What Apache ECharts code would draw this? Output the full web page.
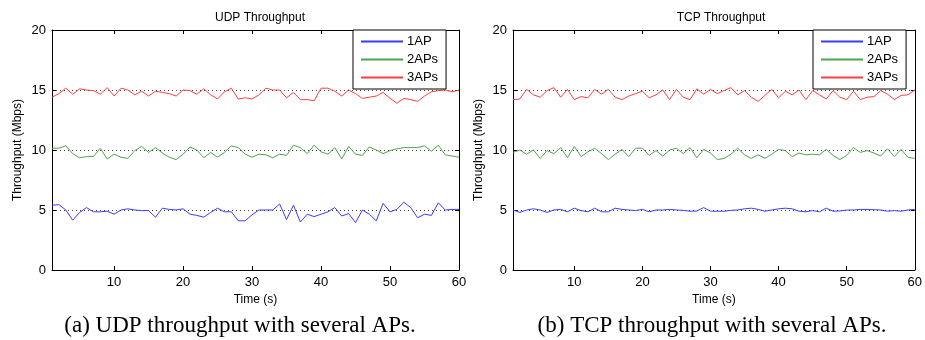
<!DOCTYPE html>
<html>
<head>
<meta charset="utf-8">
<script src="https://cdn.jsdelivr.net/npm/echarts@6/dist/echarts.min.js"></script>
<style>
html,body{margin:0;padding:0;background:#fff;}
#c{width:925px;height:340px;}
</style>
</head>
<body>
<div id="c"></div>
<script>
// ---- data ----
var time = [1,2,3,4,5,6,7,8,9,10,11,12,13,14,15,16,17,18,19,20,21,22,23,24,25,26,27,28,29,30,
            31,32,33,34,35,36,37,38,39,40,41,42,43,44,45,46,47,48,49,50,51,52,53,54,55,56,57,58,59,60];
var seriesNames = ['1AP', '2APs', '3APs'];
var xTicks = [10, 20, 30, 40, 50, 60];
var yTicks = [0, 5, 10, 15, 20];
var chartTitles = ['UDP Throughput', 'TCP Throughput'];
var captions = ['(a) UDP throughput with several APs.', '(b) TCP throughput with several APs.'];

var udp1 = [5.4,5.45,5.0,4.15,4.8,5.2,4.85,4.85,4.9,4.65,5.0,5.1,5.0,4.95,4.95,4.4,5.15,5.05,5.0,5.1,
            4.65,4.55,4.4,4.8,5.15,4.85,4.85,4.1,4.1,4.6,5.0,5.0,5.0,5.5,4.2,5.4,4.0,4.65,4.45,4.65,
            4.85,5.2,4.5,4.7,3.95,5.0,4.65,4.1,5.55,4.85,5.05,5.65,5.2,4.35,4.65,4.55,5.6,5.0,5.05,5.05];
var udp2 = [10.15,10.15,10.35,9.7,9.35,9.45,9.45,10.15,9.25,9.65,9.4,9.3,9.95,10.3,9.8,10.2,9.75,9.4,9.2,9.65,
            10.25,10.0,9.35,9.8,9.4,9.8,10.35,10.2,9.65,9.4,9.65,9.6,9.35,9.65,9.55,10.4,10.2,9.7,10.4,9.85,
            9.65,10.2,9.25,10.3,9.65,9.55,10.25,10.0,9.7,9.95,10.1,10.2,10.2,10.2,10.35,9.9,10.4,9.6,9.5,9.4];
var udp3 = [14.4,14.7,15.15,14.65,15.1,15.0,14.95,14.65,15.2,14.5,15.15,15.0,14.6,14.9,14.5,14.9,14.8,14.7,14.5,15.0,
            14.95,14.65,15.1,14.6,14.25,14.85,15.15,14.25,14.35,14.25,14.6,15.15,15.0,15.0,14.35,14.8,14.2,14.2,14.1,15.15,
            15.15,14.9,14.5,15.0,14.7,14.3,14.4,14.5,14.8,14.3,13.9,14.3,14.2,14.05,14.5,14.85,14.95,15.0,14.85,15.0];
var tcp1 = [5.0,4.8,5.0,5.1,5.0,4.8,5.0,5.05,4.85,5.15,4.95,4.85,5.15,4.85,4.85,5.15,5.05,5.0,4.95,5.05,
            4.85,5.0,5.0,5.05,5.0,4.97,4.9,4.92,5.2,4.9,4.9,4.9,4.97,5.0,5.1,5.15,5.05,4.9,5.0,5.1,
            5.15,5.1,4.9,4.85,4.95,4.85,5.15,4.9,4.92,5.0,5.0,5.05,5.05,5.02,5.0,4.9,4.95,4.9,5.0,5.05];
var tcp2 = [9.8,10.0,9.65,10.0,9.3,9.95,9.7,10.2,9.35,10.3,9.45,9.85,10.15,9.7,9.2,9.65,10.05,9.45,10.15,10.15,
            9.55,9.95,9.5,10.0,10.15,9.7,10.2,9.35,10.05,9.75,9.2,9.3,9.65,10.15,9.6,9.3,9.6,9.3,9.65,10.05,
            9.95,9.45,9.75,9.6,9.65,9.6,10.05,9.55,9.2,9.55,10.2,9.8,9.95,9.75,9.5,10.1,9.45,10.05,9.4,9.3];
var tcp3 = [14.2,14.25,15.05,14.6,14.4,14.95,15.2,14.4,15.05,14.2,14.45,14.35,15.05,14.65,15.05,14.4,14.2,14.5,14.7,14.9,
            14.35,14.6,15.0,14.2,15.05,14.4,14.2,15.1,14.65,15.05,14.7,14.95,15.2,14.6,14.95,14.4,14.05,14.55,15.05,14.35,
            14.9,14.6,15.0,14.2,14.95,14.6,14.25,14.95,14.4,14.2,14.9,14.2,14.4,14.45,14.95,14.65,14.2,14.55,14.6,15.0];

var udpData = [udp1, udp2, udp3];
var tcpData = [tcp1, tcp2, tcp3];
var colors = ['#3b3bff', '#4fa34f', '#ff3f3f'];

function pairs(vals) { return time.map(function (t, i) { return [t, vals[i]]; }); }

var chart = echarts.init(document.getElementById('c'), null, {renderer: 'canvas'});
var font = 'Liberation Sans, Arial, sans-serif';

var grids = [
  {left: 52, right: 466, top: 30, bottom: 70},
  {left: 513, right: 6, top: 30, bottom: 70}
];

var xAxes = [], yAxes = [], series = [], legends = [], titles = [];
[0, 1].forEach(function (g) {
  xAxes.push({
    type: 'value', gridIndex: g, min: 1, max: 60, position: 'bottom',
    name: 'Time (s)', nameLocation: 'middle', nameGap: 22,
    nameTextStyle: {fontFamily: font, fontSize: 12, color: '#000'},
    axisLine: {show: true, onZero: false, lineStyle: {color: '#000', width: 1}},
    axisTick: {show: true, inside: true, length: 4, customValues: xTicks, lineStyle: {color: '#000'}},
    axisLabel: {show: true, customValues: xTicks, fontFamily: font, fontSize: 13, color: '#000', margin: 6},
    splitLine: {show: false}
  });
  xAxes.push({
    type: 'value', gridIndex: g, min: 1, max: 60, position: 'top',
    axisLine: {show: true, onZero: false, lineStyle: {color: '#000', width: 1}},
    axisTick: {show: true, inside: true, length: 4, customValues: xTicks, lineStyle: {color: '#000'}},
    axisLabel: {show: false},
    splitLine: {show: false}
  });
  yAxes.push({
    type: 'value', gridIndex: g, min: 0, max: 20, interval: 5, position: 'left',
    name: 'Throughput (Mbps)', nameLocation: 'middle', nameGap: 28,
    nameTextStyle: {fontFamily: font, fontSize: 12, color: '#000'},
    axisLine: {show: true, onZero: false, lineStyle: {color: '#000', width: 1}},
    axisTick: {show: true, inside: true, length: 4, lineStyle: {color: '#000'}},
    axisLabel: {fontFamily: font, fontSize: 13, color: '#000', margin: 6},
    splitLine: {show: true, lineStyle: {color: '#444', type: [1, 3], width: 1}}
  });
  yAxes.push({
    type: 'value', gridIndex: g, min: 0, max: 20, interval: 5, position: 'right',
    axisLine: {show: true, onZero: false, lineStyle: {color: '#000', width: 1}},
    axisTick: {show: true, inside: true, length: 4, lineStyle: {color: '#000'}},
    axisLabel: {show: false},
    splitLine: {show: false}
  });
  var dataSet = g === 0 ? udpData : tcpData;
  seriesNames.forEach(function (name, k) {
    series.push({
      type: 'line', name: name, xAxisIndex: g * 2, yAxisIndex: g * 2,
      data: pairs(dataSet[k]), symbol: 'none', showSymbol: false,
      color: colors[k],
      lineStyle: {color: colors[k], width: 1}, itemStyle: {color: colors[k]},
      animation: false, z: 3
    });
  });
  legends.push({
    data: seriesNames,
    orient: 'vertical', left: g === 0 ? 353 : 813, top: 30,
    backgroundColor: '#fff', borderColor: '#000', borderWidth: 1,
    padding: [5, 8, 5, 7], itemGap: 5, itemWidth: 42, itemHeight: 13,
    itemStyle: {opacity: 0},
    selectedMode: false,
    textStyle: {fontFamily: font, fontSize: 13, color: '#000', padding: [0, 0, 0, -1]},
    z: 10
  });
});

titles.push({text: chartTitles[0], left: 255, top: 7, textAlign: 'center',
  textStyle: {fontFamily: font, fontSize: 12, fontWeight: 'normal', color: '#000'}});
titles.push({text: chartTitles[1], left: 716, top: 7, textAlign: 'center',
  textStyle: {fontFamily: font, fontSize: 12, fontWeight: 'normal', color: '#000'}});
titles.push({text: captions[0], left: 235, top: 309, textAlign: 'center',
  textStyle: {fontFamily: 'Liberation Serif, Times New Roman, serif', fontSize: 23, fontWeight: 'normal', color: '#000'}});
titles.push({text: captions[1], left: 707, top: 309, textAlign: 'center',
  textStyle: {fontFamily: 'Liberation Serif, Times New Roman, serif', fontSize: 23, fontWeight: 'normal', color: '#000'}});

chart.setOption({
  animation: false,
  backgroundColor: '#fff',
  color: colors,
  title: titles,
  grid: grids,
  xAxis: xAxes,
  yAxis: yAxes,
  legend: legends,
  series: series
});
</script>
</body>
</html>
